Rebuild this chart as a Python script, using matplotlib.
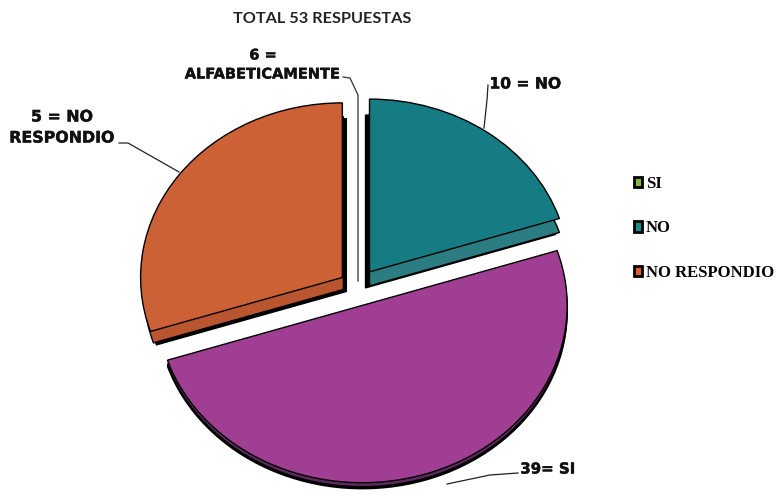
import matplotlib.pyplot as plt
import matplotlib.patheffects as pe
from matplotlib.patches import Patch

# shares as drawn in the picture (the text labels say something else)
categories = ['SI', 'NO', 'NO RESPONDIO']
shares = [50, 20, 30]
explode = [0.09, 0.09, 0.09]
top_colors = ['#A03E94', '#147C82', '#CC6135']
side_colors = ['#5A2A5C', '#2C7D82', '#B9552F']
legend_colors = ['#7DB83A', '#1B8A8F', '#D9602F']

W, H = 777, 496
RX, RY = 208, 180
CX, CY = 357.5, 287


def draw_layer(colors, offsets, radii, edge, z):
    # one pie per layer, slices nudged in pixels for the fake 3D look
    wedges, _ = ax.pie(shares, explode=explode, colors=colors, startangle=198,
                       center=(CX / RX, (H - CY) / RY), radius=1,
                       wedgeprops={'edgecolor': edge, 'linewidth': 1.0})
    for w, (dx, dy), r in zip(wedges, offsets, radii):
        w.set_center((w.center[0] + dx / RX, w.center[1] - dy / RY))
        w.set_radius(r)
        w.set_zorder(z)
    return wedges


fig = plt.figure(figsize=(W / 100, H / 100), dpi=100)
ax = fig.add_axes([0, 0, 1, 1])

# shadow, side, top
draw_layer(['black'] * 3, [(-1, 9), (-3, 14), (4, 14)], [0.985, 0.96, 0.96], 'black', 1)
draw_layer(side_colors, [(-1, 7), (1, 12), (1, 12)], [0.985, 0.96, 0.96], 'black', 2)
draw_layer(top_colors, [(-1, 3), (1, -2), (0, 0)], [0.985, 0.96, 0.97], 'black', 3)

ax.set_aspect('auto')
ax.set_xlim(0, W / RX)
ax.set_ylim(0, H / RY)
ax.axis('off')

# overlay in pixel coordinates for the text and leader lines
ov = fig.add_axes([0, 0, 1, 1], zorder=5)
ov.set_xlim(0, W)
ov.set_ylim(H, 0)
ov.axis('off')

ov.text(322, 19, 'TOTAL 53 RESPUESTAS', family='Lato', fontweight='bold', fontsize=11.7,
        color='#222222', ha='center', va='center')

fat = [pe.withStroke(linewidth=0.3, foreground='#111111')]
label_font = {'family': 'DejaVu Sans', 'fontweight': 'bold', 'color': '#111111',
              'ha': 'center', 'va': 'center', 'path_effects': fat}
ov.text(263, 55, '6 =', fontsize=10.5, **label_font)
ov.text(263, 74, 'ALFABETICAMENTE', fontsize=10.5, **label_font)
ov.text(62, 117, '5 = NO', fontsize=11.4, **label_font)
ov.text(62, 138, 'RESPONDIO', fontsize=11.4, **label_font)
ov.text(525, 84, '10 = NO', fontsize=11.2, **label_font)
ov.text(548, 469, '39= SI', fontsize=10.8, **label_font)

ov.plot([119, 128, 179], [143, 143, 172], color='#222222', lw=0.9)
ov.plot([343, 350, 358, 358], [77, 78, 95, 281], color='#333333', lw=0.9)
ov.plot([488, 487, 484], [85, 100, 128], color='#222222', lw=0.9)
ov.plot([518, 490, 447], [473, 475, 484], color='#222222', lw=0.9)

handles = [Patch(facecolor=c, edgecolor='black', linewidth=2) for c in legend_colors]
ov.legend(handles, categories, loc='upper left', bbox_to_anchor=(634 / W, 1 - 176 / H),
          frameon=False, handlelength=0.5, handleheight=0.6, handletextpad=0.2,
          labelspacing=1.7, borderpad=0, borderaxespad=0,
          prop={'family': 'Liberation Serif', 'weight': 'bold', 'size': 12})

fig.savefig('out.png', dpi=100)
